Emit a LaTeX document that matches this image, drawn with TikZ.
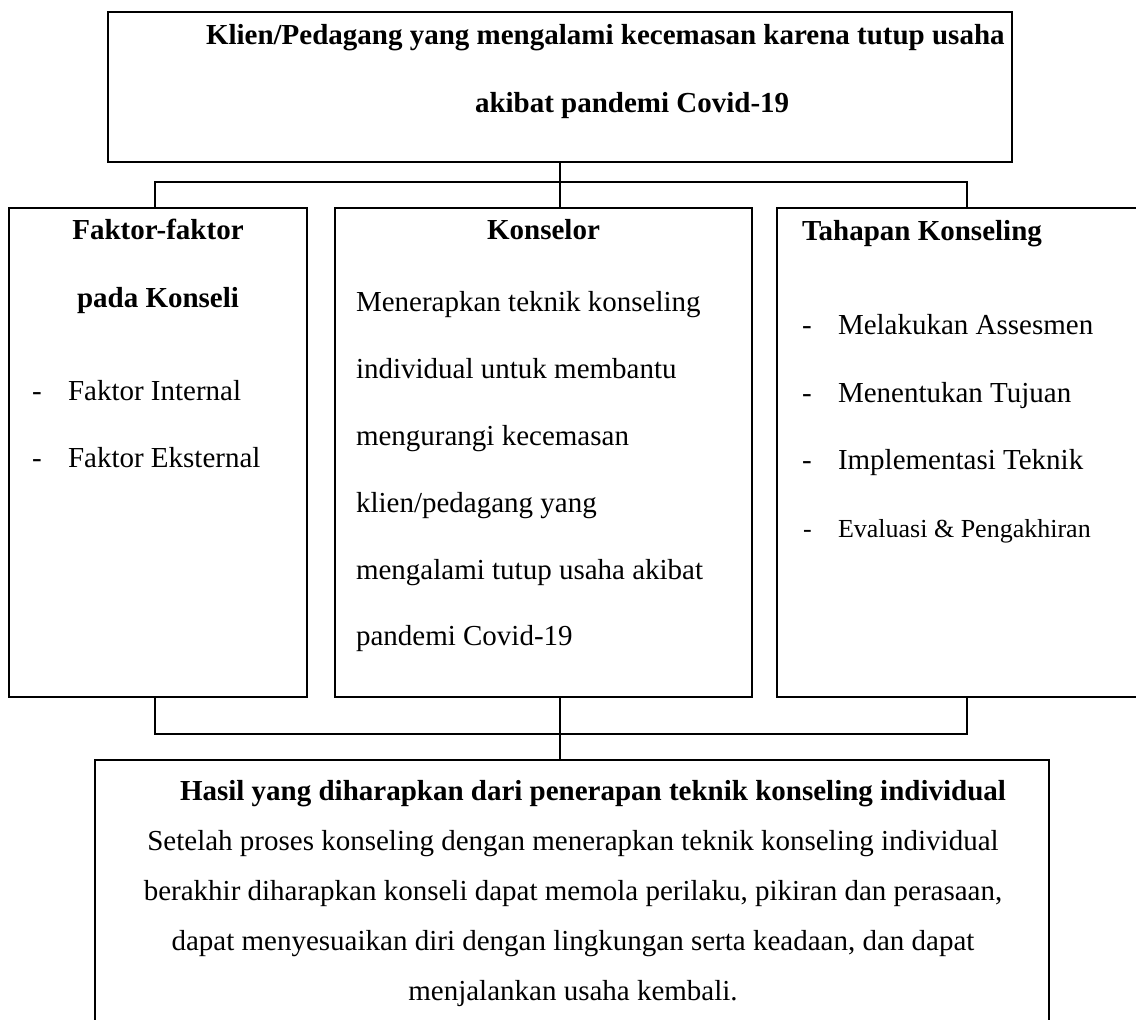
\documentclass[tikz,border=0pt]{standalone}
\usepackage{fontspec}
\setmainfont{Liberation Serif}
\begin{document}
\begin{tikzpicture}[x=1pt,y=-1pt,
  boxnode/.style={draw=black,line width=1.6pt,rectangle,inner sep=0pt,outer sep=0pt},
  conn/.style={draw=black,line width=1.6pt},
  txt/.style={inner sep=0pt,outer sep=0pt,font=\fontsize{29pt}{33pt}\selectfont},
  btxt/.style={txt,font=\fontsize{29pt}{33pt}\selectfont\bfseries},
  stxt/.style={inner sep=0pt,outer sep=0pt,font=\fontsize{26pt}{30pt}\selectfont}]
\clip (0,0) rectangle (1136,1020);
\fill[white] (0,0) rectangle (1136,1020);

% boxes
\node[boxnode,minimum width=904pt,minimum height=150pt] (top) at (560,87) {};
\node[boxnode,minimum width=298pt,minimum height=489pt] (left) at (158,452.5) {};
\node[boxnode,minimum width=417pt,minimum height=489pt] (mid) at (543.5,452.5) {};
\node[boxnode,minimum width=370pt,minimum height=489pt] (right) at (962,452.5) {};
\node[boxnode,minimum width=954pt,minimum height=290pt] (bottom) at (572,905) {};

% connector helper points
\coordinate (bl) at (155,182);
\coordinate (br) at (967,182);
\coordinate (bl2) at (155,734);
\coordinate (br2) at (967,734);

% connectors
\draw[conn] (top.south) -- (top.south |- mid.north);
\draw[conn] (left.north -| bl) -- (bl) -- (br) -- (right.north -| br);
\draw[conn] (left.south -| bl2) -- (bl2) -- (br2) -- (right.south -| br2);
\draw[conn] (mid.south -| top.south) -- (bottom.north -| top.south);

% top text
\node[btxt,anchor=mid west] (t1) at (206,42) {Klien/Pedagang yang mengalami kecemasan karena tutup usaha};
\node[btxt,anchor=mid west] (t2) at (475,110) {akibat pandemi Covid-19};

% left box text
\node[btxt,anchor=mid] (l1) at (158,237) {Faktor-faktor};
\node[btxt,anchor=mid] (l2) at (158,305) {pada Konseli};
\node[txt,anchor=mid west] (ld1) at (32,398) {-};
\node[txt,anchor=mid west] (l3) at (68,398) {Faktor Internal};
\node[txt,anchor=mid west] (ld2) at (32,465) {-};
\node[txt,anchor=mid west] (l4) at (68,465) {Faktor Eksternal};

% middle box text
\node[btxt,anchor=mid] (m0) at (543.5,237) {Konselor};
\node[txt,anchor=mid west] (m1) at (356,309) {Menerapkan teknik konseling};
\node[txt,anchor=mid west] (m2) at (356,376) {individual untuk membantu};
\node[txt,anchor=mid west] (m3) at (356,443) {mengurangi kecemasan};
\node[txt,anchor=mid west] (m4) at (356,510) {klien/pedagang yang};
\node[txt,anchor=mid west] (m5) at (356,577) {mengalami tutup usaha akibat};
\node[txt,anchor=mid west] (m6) at (356,643) {pandemi Covid-19};

% right box text
\node[btxt,anchor=mid west] (r0) at (802,238) {Tahapan Konseling};
\node[txt,anchor=mid west] (rd1) at (802,332) {-};
\node[txt,anchor=mid west] (r1) at (838,332) {Melakukan Assesmen};
\node[txt,anchor=mid west] (rd2) at (802,400) {-};
\node[txt,anchor=mid west] (r2) at (838,400) {Menentukan Tujuan};
\node[txt,anchor=mid west] (rd3) at (802,467) {-};
\node[txt,anchor=mid west] (r3) at (838,467) {Implementasi Teknik};
\node[stxt,anchor=mid west] (rd4) at (803,535) {-};
\node[stxt,anchor=mid west] (r4) at (838,535) {Evaluasi \& Pengakhiran};

% bottom box text
\node[btxt,anchor=mid west] (b0) at (180,798) {Hasil yang diharapkan dari penerapan teknik konseling individual};
\node[txt,anchor=mid] (b1) at (573,848) {Setelah proses konseling dengan menerapkan teknik konseling individual};
\node[txt,anchor=mid] (b2) at (573,898) {berakhir diharapkan konseli dapat memola perilaku, pikiran dan perasaan,};
\node[txt,anchor=mid] (b3) at (573,948) {dapat menyesuaikan diri dengan lingkungan serta keadaan, dan dapat};
\node[txt,anchor=mid] (b4) at (573,998) {menjalankan usaha kembali.};
\end{tikzpicture}
\end{document}
